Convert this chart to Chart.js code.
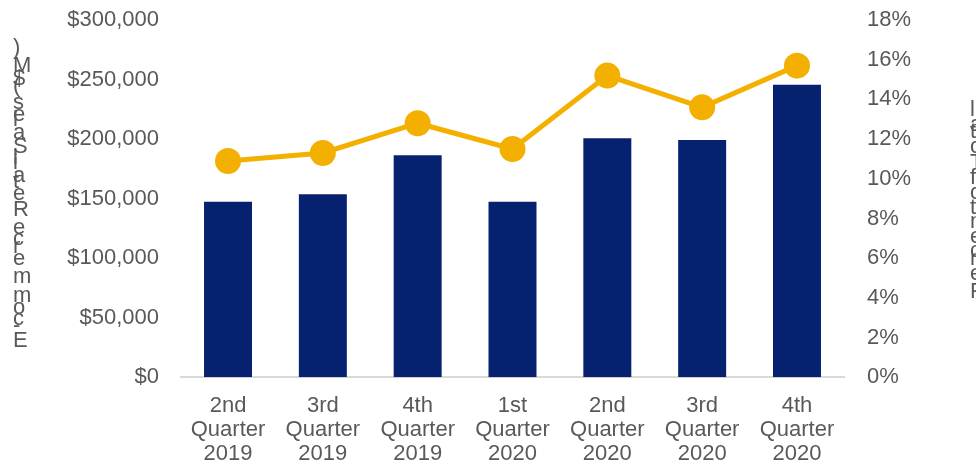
<!DOCTYPE html>
<html>
<head>
<meta charset="utf-8">
<script src="https://cdn.jsdelivr.net/npm/chart.js@4/dist/chart.umd.min.js"></script>
<style>
  html, body { margin: 0; padding: 0; background: #fff; }
  #wrap { width: 976px; height: 464px; position: relative; }
</style>
</head>
<body>
<div id="wrap"><canvas id="c" width="976" height="464"></canvas></div>
<script>
// Quarterly e-commerce retail sales and share of total retail
const quarters = [
  ['2nd', 'Quarter', '2019'],
  ['3rd', 'Quarter', '2019'],
  ['4th', 'Quarter', '2019'],
  ['1st', 'Quarter', '2020'],
  ['2nd', 'Quarter', '2020'],
  ['3rd', 'Quarter', '2020'],
  ['4th', 'Quarter', '2020']
];
const salesMillions = [147400, 153700, 186400, 147400, 200700, 199200, 245700];
const percentOfTotal = [10.9, 11.3, 12.8, 11.5, 15.2, 13.6, 15.7];
const leftTitle = 'E-commerce Retail Sales ($M)';
const rightTitle = 'Percent of Total';

const FONT = "'Liberation Sans', Arial, sans-serif";
const GREY = '#595959';

// Axis titles are set as upright glyphs stacked from the bottom upwards
const stackedTitles = {
  id: 'stackedTitles',
  afterDraw(chart) {
    const ctx = chart.ctx;
    const draw = (text, x, yBottom, yTop) => {
      ctx.save();
      ctx.font = '22px ' + FONT;
      ctx.fillStyle = GREY;
      ctx.textAlign = 'left';
      ctx.textBaseline = 'alphabetic';
      const chars = Array.from(text);
      const adv = chars.map(ch => ctx.measureText(ch).width);
      const total = adv.slice(0, -1).reduce((a, b) => a + b, 0);
      const scale = (yBottom - yTop - 16) / total;
      let y = yBottom;
      chars.forEach((ch, i) => {
        ctx.fillText(ch, x, y);
        y -= adv[i] * scale;
      });
      ctx.restore();
    };
    draw(leftTitle, 13, 347, 38);
    draw(rightTitle, 970, 298, 100);
  }
};

// Vertical axes take a fixed width and add no extra top/bottom padding
const fixVertical = width => s => {
  s.width = width;
  s.paddingTop = 0;
  s.paddingBottom = 0;
};

new Chart(document.getElementById('c'), {
  data: {
    labels: quarters,
    datasets: [
      {
        type: 'line',
        label: rightTitle,
        data: percentOfTotal,
        yAxisID: 'yPct',
        borderColor: '#F4B000',
        backgroundColor: '#F4B000',
        borderWidth: 5,
        pointRadius: 13,
        pointHoverRadius: 13,
        pointBorderWidth: 0,
        tension: 0,
        clip: false,
        order: 0
      },
      {
        type: 'bar',
        label: leftTitle,
        data: salesMillions,
        yAxisID: 'ySales',
        backgroundColor: '#062170',
        categoryPercentage: 1,
        barPercentage: 0.506,
        order: 1
      }
    ]
  },
  options: {
    responsive: false,
    animation: false,
    events: [],
    layout: { autoPadding: false, padding: { top: 20, left: 0, right: 0, bottom: 0 } },
    plugins: {
      legend: { display: false },
      tooltip: { enabled: false }
    },
    scales: {
      x: {
        grid: { display: false, drawTicks: false },
        border: { display: true, color: '#D9D9D9', width: 2 },
        ticks: {
          color: GREY,
          font: { family: FONT, size: 22, lineHeight: '24px' },
          padding: 17,
          maxRotation: 0,
          autoSkip: false
        },
        afterFit(s) { s.height = 86.7; }
      },
      ySales: {
        position: 'left',
        min: 0,
        max: 300000,
        grid: { display: false, drawTicks: false },
        border: { display: false },
        ticks: {
          stepSize: 50000,
          color: GREY,
          font: { family: FONT, size: 22 },
          padding: 21.6,
          callback: v => '$' + v.toLocaleString('en-US')
        },
        afterFit: fixVertical(180.6)
      },
      yPct: {
        position: 'right',
        min: 0,
        max: 18,
        grid: { display: false, drawTicks: false },
        border: { display: false },
        ticks: {
          stepSize: 2,
          color: GREY,
          font: { family: FONT, size: 22 },
          padding: 22.6,
          callback: v => v + '%'
        },
        afterFit: fixVertical(131.6)
      }
    }
  },
  plugins: [stackedTitles]
});
</script>
</body>
</html>
